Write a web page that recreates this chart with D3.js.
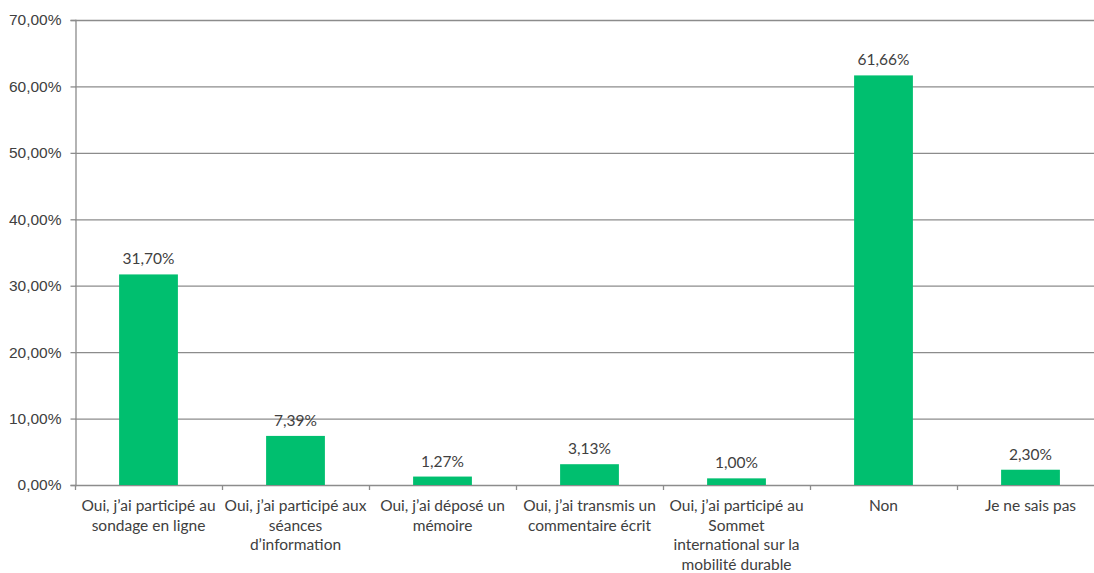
<!DOCTYPE html>
<html>
<head>
<meta charset="utf-8">
<script src="https://cdn.jsdelivr.net/npm/d3@7"></script>
<style>
  body { margin: 0; background: #fff; }
  svg { display: block; font-family: Lato, "Open Sans", sans-serif; }
</style>
</head>
<body>
<div class="chart"></div>
<script>
// categories, split into lines the way the reference wraps them
const categories = [
  ["Oui, j\u2019ai participé au", "sondage en ligne"],
  ["Oui, j\u2019ai participé aux", "séances", "d\u2019information"],
  ["Oui, j\u2019ai déposé un", "mémoire"],
  ["Oui, j\u2019ai transmis un", "commentaire écrit"],
  ["Oui, j\u2019ai participé au", "Sommet", "international sur la", "mobilité durable"],
  ["Non"],
  ["Je ne sais pas"]
];
const values = [31.70, 7.39, 1.27, 3.13, 1.00, 61.66, 2.30];
const yTicks = [0, 10, 20, 30, 40, 50, 60, 70];

const width = 1094;
const height = 573;
const margin = {top: 20, right: -10, bottom: 88, left: 75};

const fmt = v => d3.format(".2f")(v).replace(".", ",") + "%";

const svg = d3.select(".chart")
  .append("svg")
  .attr("width", width)
  .attr("height", height);

const xScale = d3.scaleBand()
  .domain(d3.range(categories.length))
  .range([margin.left, width - margin.right])
  .paddingInner(0.6)
  .paddingOuter(0.3);

const yScale = d3.scaleLinear()
  .domain([0, 70])
  .range([height - margin.bottom, margin.top]);

// gridlines
svg.append("g")
  .selectAll("line")
  .data(yTicks)
  .join("line")
    .attr("x1", margin.left)
    .attr("x2", width - margin.right)
    .attr("y1", d => yScale(d) + 0.5)
    .attr("y2", d => yScale(d) + 0.5)
    .attr("stroke", "#8c8c8c")
    .attr("stroke-width", 1.3);

// y axis
const yAxis = svg.append("g")
  .attr("transform", `translate(${margin.left + 0.5},0)`)
  .call(d3.axisLeft(yScale).tickValues(yTicks).tickFormat(fmt).tickSize(5).tickPadding(9));
yAxis.select(".domain").attr("stroke", "#8c8c8c").attr("stroke-width", 1.3);
yAxis.selectAll(".tick line").attr("stroke", "#8c8c8c").attr("stroke-width", 1.3);
yAxis.selectAll("text").attr("font-size", "15.5px").attr("fill", "#404040");

// x axis ticks between categories
const bandW = (width - margin.right - margin.left) / categories.length;
svg.append("g")
  .selectAll("line")
  .data(d3.range(categories.length + 1))
  .join("line")
    .attr("x1", i => margin.left + i * bandW + 0.5)
    .attr("x2", i => margin.left + i * bandW + 0.5)
    .attr("y1", yScale(0))
    .attr("y2", yScale(0) + 5)
    .attr("stroke", "#8c8c8c")
    .attr("stroke-width", 1.3);

// bars
svg.append("g")
  .attr("fill", "#00bf6f")
  .selectAll("rect")
  .data(values)
  .join("rect")
    .attr("x", (d, i) => xScale(i))
    .attr("y", d => yScale(d))
    .attr("width", xScale.bandwidth())
    .attr("height", d => yScale(0) - yScale(d));

// value labels
svg.append("g")
  .selectAll("text")
  .data(values)
  .join("text")
    .attr("x", (d, i) => xScale(i) + xScale.bandwidth() / 2)
    .attr("y", d => yScale(d) - 10)
    .attr("text-anchor", "middle")
    .attr("font-size", "15.5px")
    .attr("fill", "#404040")
    .text(d => fmt(d));

// category labels
const catG = svg.append("g")
  .selectAll("text")
  .data(categories)
  .join("text")
    .attr("x", (d, i) => xScale(i) + xScale.bandwidth() / 2)
    .attr("y", yScale(0) + 26)
    .attr("text-anchor", "middle")
    .attr("font-size", "15.5px")
    .attr("fill", "#404040");

catG.selectAll("tspan")
  .data(d => d)
  .join("tspan")
    .attr("x", function() { return this.parentNode.getAttribute("x"); })
    .attr("dy", (d, i) => i === 0 ? 0 : 19.6)
    .text(d => d);
</script>
</body>
</html>
